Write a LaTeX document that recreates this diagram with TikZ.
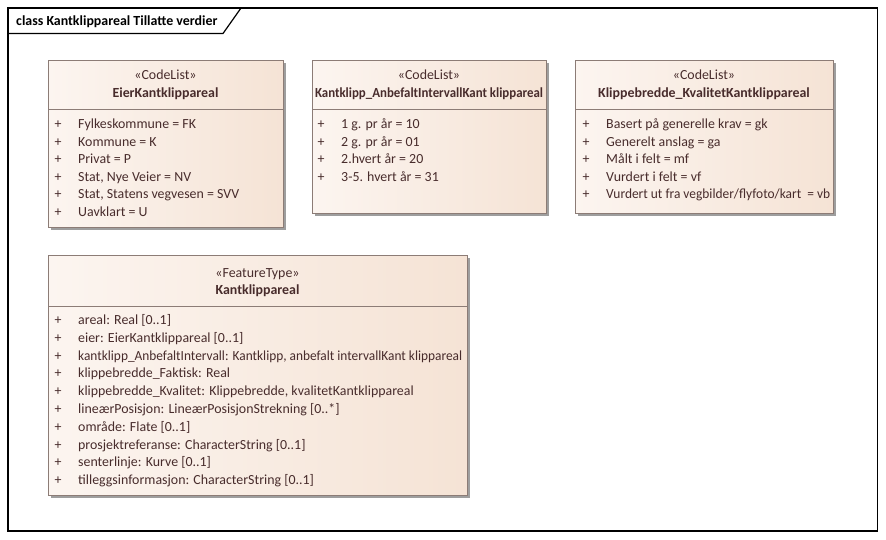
\documentclass[tikz,border=0pt]{standalone}
\usepackage{fontspec}
\setmainfont{Carlito}
\usepackage{graphicx}
\usetikzlibrary{shadows}
\definecolor{txt}{RGB}{72,44,44}
\definecolor{bord}{RGB}{140,124,118}
\definecolor{fillL}{RGB}{252,245,240}
\definecolor{fillR}{RGB}{245,227,213}
\newcommand{\squeeze}[2]{\resizebox{#1}{\height}{#2}}
\tikzset{
  umlbox/.style={draw=bord, line width=0.9pt, left color=fillL, right color=fillR,
    inner sep=0pt, anchor=north west,
    drop shadow={shadow xshift=3pt, shadow yshift=-3pt, fill=black!38, opacity=1}},
  sep/.style={draw=bord, line width=0.9pt},
  txtn/.style={inner sep=0pt, text=txt, font=\fontsize{13.9pt}{16pt}\selectfont},
  attr/.style={txtn, anchor=base west},
  plus/.style={txtn, anchor=base},
  stereo/.style={txtn, anchor=base},
  cname/.style={txtn, anchor=base, font=\fontsize{13.9pt}{16pt}\selectfont\bfseries},
  frame/.style={draw=black, line width=1.2pt},
}
\begin{document}
\begin{tikzpicture}[x=1pt,y=-1pt]
\useasboundingbox[fill=white] (0,0) rectangle (886,539);
% frame
\draw[frame] (8,8) rectangle (877.5,531);
\draw[frame] (8,33.5) -- (223,33.5) -- (241,8);
\node[anchor=base west, inner sep=0pt, font=\fontsize{13.9pt}{16pt}\selectfont\bfseries] (title) at (16,25.5) {class Kantklippareal Tillatte verdier};

% Box 1
\node[umlbox, minimum width=235pt, minimum height=167pt] (b1) at (48,60) {};
\draw[sep] (b1.west |- 0,109) -- (b1.east |- 0,109);
\node[stereo] (b1s) at (165.5,79.5) {«CodeList»};
\node[cname] (b1n) at (165.5,97.5) {EierKantklippareal};
\foreach \t [count=\i] in {Fylkeskommune = FK, Kommune = K, Privat = P, {Stat, Nye Veier = NV}, {Stat, Statens vegvesen = SVV}, Uavklart = U}{
  \node[plus] (b1p\i) at (58,{128.5+17.5*(\i-1)}) {+};
  \node[attr] (b1a\i) at (78,{128.5+17.5*(\i-1)}) {\t};
}

% Box 2
\node[umlbox, minimum width=234pt, minimum height=153pt] (b2) at (312,60) {};
\draw[sep] (b2.west |- 0,109) -- (b2.east |- 0,109);
\node[stereo] (b2s) at (429,79.5) {«CodeList»};
\node[cname] (b2n) at (429,97.5) {\squeeze{228pt}{Kantklipp\_AnbefaltIntervallKant klippareal}};
\foreach \t [count=\i] in {1 g. pr år = 10, 2 g. pr år = 01, 2.hvert år = 20, 3-5. hvert år = 31}{
  \node[plus] (b2p\i) at (321,{128.5+17.5*(\i-1)}) {+};
  \node[attr] (b2a\i) at (341,{128.5+17.5*(\i-1)}) {\t};
}

% Box 3
\node[umlbox, minimum width=258pt, minimum height=153pt] (b3) at (575,60) {};
\draw[sep] (b3.west |- 0,109) -- (b3.east |- 0,109);
\node[stereo] (b3s) at (704,79.5) {«CodeList»};
\node[cname] (b3n) at (704,97.5) {Klippebredde\_KvalitetKantklippareal};
\foreach \t [count=\i] in {Basert på generelle krav = gk, Generelt anslag = ga, Målt i felt = mf, Vurdert i felt = vf}{
  \node[plus] (b3p\i) at (586,{128.5+17.5*(\i-1)}) {+};
  \node[attr] (b3a\i) at (606,{128.5+17.5*(\i-1)}) {\t};
}
\node[plus] (b3p5) at (586,198.5) {+};
\node[attr] (b3a5) at (606,198.5) {\squeeze{224pt}{Vurdert ut fra vegbilder/flyfoto/kart \ = vb}};

% Box 4
\node[umlbox, minimum width=419pt, minimum height=240pt] (b4) at (48,255) {};
\draw[sep] (b4.west |- 0,306) -- (b4.east |- 0,306);
\node[stereo] (b4s) at (257.5,277.5) {«FeatureType»};
\node[cname] (b4n) at (257.5,294.5) {Kantklippareal};
\foreach \t [count=\i] in {areal: Real [0..1], eier: EierKantklippareal [0..1], {\squeeze{384pt}{kantklipp\_AnbefaltIntervall: Kantklipp, anbefalt intervallKant klippareal}}, klippebredde\_Faktisk: Real, {klippebredde\_Kvalitet: Klippebredde, kvalitetKantklippareal}, lineærPosisjon: LineærPosisjonStrekning [0..*], område: Flate [0..1], prosjektreferanse: CharacterString [0..1], senterlinje: Kurve [0..1], tilleggsinformasjon: CharacterString [0..1]}{
  \node[plus] (b4p\i) at (58,{324.5+17.8*(\i-1)}) {+};
  \node[attr] (b4a\i) at (78,{324.5+17.8*(\i-1)}) {\t};
}
\end{tikzpicture}
\end{document}
